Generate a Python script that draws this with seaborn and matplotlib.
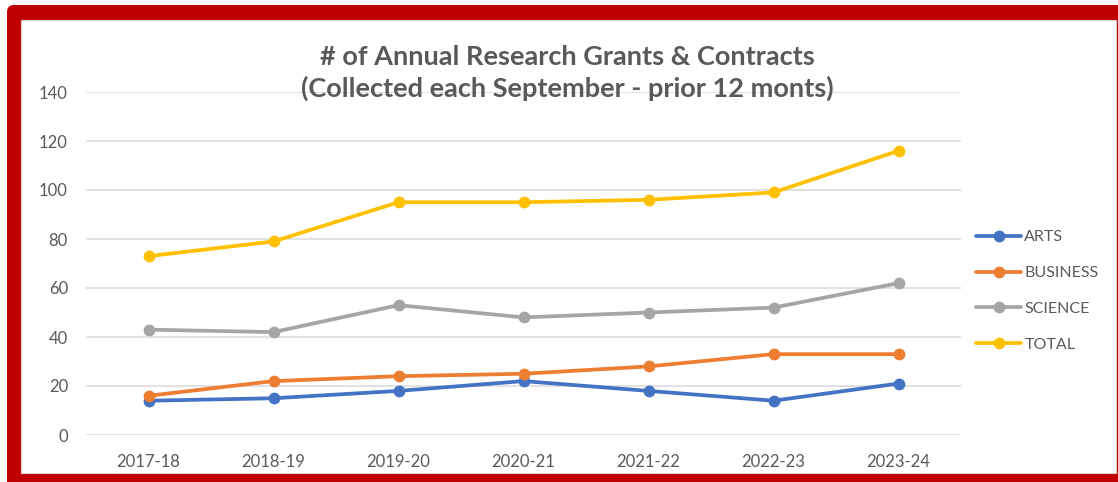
import matplotlib
matplotlib.use("Agg")
import matplotlib.pyplot as plt
from matplotlib.patches import FancyBboxPatch, Rectangle
from matplotlib.lines import Line2D
import seaborn as sns
import pandas as pd

years = ["2017-18", "2018-19", "2019-20", "2020-21", "2021-22", "2022-23", "2023-24"]
arts = [14, 15, 18, 22, 18, 14, 21]
business = [16, 22, 24, 25, 28, 33, 33]
science = [43, 42, 53, 48, 50, 52, 62]
total = [73, 79, 95, 95, 96, 99, 116]
series_names = ["ARTS", "BUSINESS", "SCIENCE", "TOTAL"]
colors = ["#4472C4", "#ED7D31", "#A5A5A5", "#FFC000"]
title = "# of Annual Research Grants & Contracts\n(Collected each September - prior 12 monts)"

rows = []
for name, vals in zip(series_names, [arts, business, science, total]):
    for y, v in zip(years, vals):
        rows.append({"Year": y, "Series": name, "Value": v})
df = pd.DataFrame(rows)

sns.set_theme(style="white")
plt.rcParams["font.family"] = ["Lato", "DejaVu Sans"]

W, H = 1118, 482
fig = plt.figure(figsize=(W / 100, H / 100), dpi=100)
fig.patch.set_facecolor("white")

# red frame
red = FancyBboxPatch((7 / 100, -0.3), (W + 40 - 7) / 100, (H - 5) / 100 + 0.3,
                     boxstyle="round,pad=0,rounding_size=0.07",
                     transform=fig.dpi_scale_trans, facecolor="#C00000",
                     edgecolor="none", zorder=0)
fig.patches.append(red)
inner = Rectangle((21 / W, 9 / H), (1116 - 21) / W, (473 - 20) / H,
                  transform=fig.transFigure, facecolor="white",
                  edgecolor="#D0D0D0", linewidth=0.8, zorder=1)
fig.patches.append(inner)

ax = fig.add_axes([86 / W, (H - 435) / H, 875 / W, 343 / H])
ax.set_facecolor("none")
ax.set_zorder(2)

sns.lineplot(data=df, x="Year", y="Value", hue="Series", palette=colors,
             marker="o", markersize=8.5, markeredgewidth=0, linewidth=2.7,
             ax=ax, sort=False)

ax.set_xlim(-0.5, len(years) - 0.5)
ax.set_ylim(0, 140)
ax.set_yticks(range(0, 141, 20))
ax.grid(axis="y", color="#D9D9D9", linewidth=1.1)
ax.set_axisbelow(True)
for s in ax.spines.values():
    s.set_visible(False)
ax.tick_params(axis="both", length=0, labelsize=12, labelcolor="#595959")
ax.tick_params(axis="y", pad=13)
ax.tick_params(axis="x", pad=14)
ax.set_xlabel("")
ax.set_ylabel("")

handles = [Line2D([0], [0], color=c, linewidth=2.7, marker="o", markersize=8.5,
                  markeredgewidth=0) for c in colors]
ax.legend(handles, series_names, loc="center left",
          bbox_to_anchor=(970 / W, (H - 291) / H), bbox_transform=fig.transFigure,
          frameon=False, fontsize=11.5, labelcolor="#595959", handlelength=2.8,
          handletextpad=0.2, labelspacing=1.35, borderaxespad=0)

fig.text(567 / W, (H - 73) / H, title, ha="center", va="center",
         fontsize=19.5, fontweight="bold", color="#595959", linespacing=1.35,
         zorder=3)

fig.savefig("out.png", dpi=100, facecolor="white")
